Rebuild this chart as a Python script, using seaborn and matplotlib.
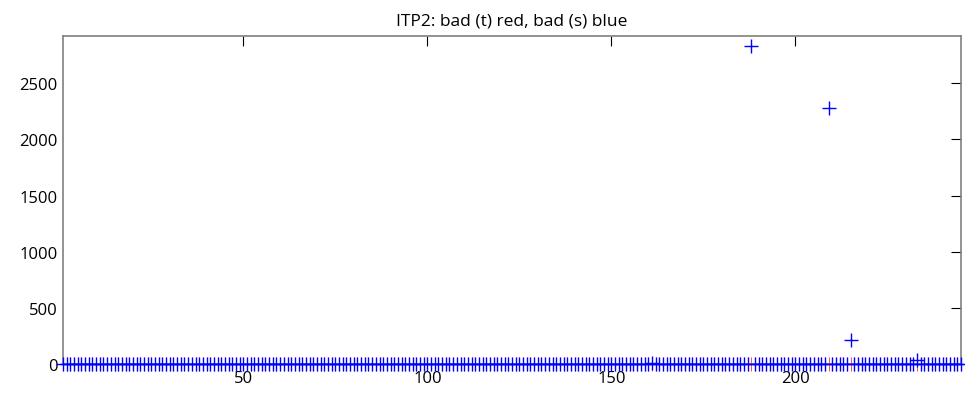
import numpy as np
import pandas as pd
import matplotlib
matplotlib.use("Agg")
import matplotlib.pyplot as plt
import seaborn as sns

# ---- data ----
n_points = 245
title = "ITP2: bad (t) red, bad (s) blue"
x_ticks = [50, 100, 150, 200]
y_ticks = [0, 500, 1000, 1500, 2000, 2500]
# bad (s): non-zero entries (index -> value)
bad_s_idx = [161, 188, 209, 215, 233]
bad_s_val = [12, 2835, 2275, 210, 35]
# bad (t): zero everywhere
bad_t_val = 0.0

idx = np.arange(1, n_points + 1)
bad_t = np.full(n_points, bad_t_val)
bad_s = np.zeros(n_points)
for i, v in zip(bad_s_idx, bad_s_val):
    bad_s[i - 1] = v

df_t = pd.DataFrame({"idx": idx, "val": bad_t})
df_s = pd.DataFrame({"idx": idx, "val": bad_s})

sns.set_theme(style="white")
plt.rcParams["font.family"] = ["Open Sans", "DejaVu Sans"]

fig = plt.figure(figsize=(9.65, 4.02), dpi=100)
ax = fig.add_axes([0.0653, 0.092, 0.9306, 0.816])

sns.scatterplot(data=df_t, x="idx", y="val", marker="+", color="#ff3030",
                s=100, linewidth=0.6, ax=ax, zorder=2, clip_on=False)
sns.scatterplot(data=df_s, x="idx", y="val", marker="+", color="#0000ff",
                s=110, linewidth=1.0, ax=ax, zorder=3, clip_on=False)

ax.set_xlim(1, 245)
ax.set_ylim(0, 2920)
ax.set_xticks(x_ticks)
ax.set_yticks(y_ticks)
ax.set_xlabel("")
ax.set_ylabel("")
ax.set_title(title, fontsize=12.5, pad=8, color="black")
ax.tick_params(direction="in", length=7, width=0.8, top=True, right=True,
               labelsize=12, colors="black", pad=4)
for sp in ax.spines.values():
    sp.set_color("#808080")
    sp.set_linewidth(1.2)

fig.savefig("out.png", dpi=100)
